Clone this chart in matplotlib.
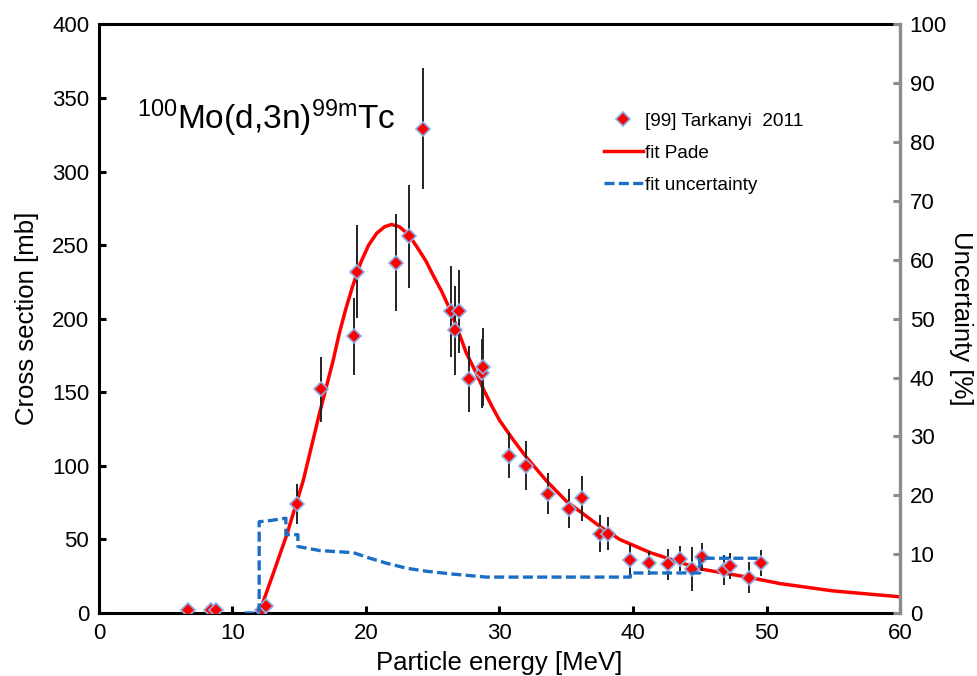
import matplotlib
matplotlib.use('Agg')
import matplotlib.pyplot as plt
from matplotlib.lines import Line2D

plt.rcParams['font.family'] = ['Liberation Sans', 'DejaVu Sans']
plt.rcParams['mathtext.fontset'] = 'custom'
plt.rcParams['mathtext.rm'] = 'Liberation Sans'

# measured cross sections, Tarkanyi 2011
energy = [6.7, 8.4, 8.8, 12.2, 12.5, 14.8, 16.6, 19.1, 19.3, 22.25, 23.2, 24.25,
          26.35, 26.7, 27.0, 27.7, 28.7, 28.8, 30.7, 32.0, 33.6, 35.2, 36.2, 37.5,
          38.15, 39.8, 41.2, 42.6, 43.5, 44.4, 45.2, 46.8, 47.3, 48.7, 49.6]
xsec = [2, 2, 2, 2, 5, 74, 152, 188, 232, 238, 256, 329,
        205, 192, 205, 159, 163, 167, 107, 100, 81, 71, 78, 54,
        54, 36, 34, 33, 37, 30, 38, 29, 32, 24, 34]
xsec_err = [0, 0, 0, 0, 0, 13.5, 22, 26, 31.5, 33, 35, 41,
            31, 30, 28, 22.5, 23.5, 26.6, 15, 16.7, 14, 13.2, 15.2, 12.6,
            11.5, 10.8, 8, 10.8, 8.8, 14.8, 9.3, 10.2, 9.1, 10.5, 9]

# Pade fit
fit_energy = [12.0, 13.06, 14.06, 15.3, 16.5, 17.55, 18.0, 18.5, 19.0, 19.6, 20.2,
              20.8, 21.4, 21.9, 22.5, 23.2, 23.8, 24.5, 25.0, 25.7, 26.3, 26.9,
              27.5, 28.2, 28.8, 29.4, 30.0, 31.0, 32.0, 33.5, 35.0, 37.5, 39.0,
              41.3, 45.0, 48.8, 51.0, 55.0, 60.0]
fit_xsec = [0, 27, 53, 90, 135, 172, 190, 207, 222, 238, 250,
            258, 262.5, 264, 262.5, 257, 249, 239, 230, 218, 206, 192,
            177, 164, 152, 141, 131, 118, 106, 90, 76, 59, 50,
            41, 30, 24, 20, 15, 11]

# fit uncertainty in percent (right axis)
unc_energy = [10.9, 12.0, 12.0, 12.8, 14.0, 14.0, 14.9, 14.9, 16.55, 19.05, 20.3,
              21.55, 23.05, 24.5, 26.55, 29.0, 39.8, 39.8, 45.0, 45.0, 49.6]
unc_pct = [0, 0, 15.5, 15.7, 16.1, 13.3, 13.3, 11.3, 10.6, 10.25, 9.3,
           8.45, 7.6, 7.1, 6.6, 6.1, 6.1, 6.8, 6.8, 9.3, 9.3]

fig = plt.figure(figsize=(9.77, 6.76), dpi=100)
ax = fig.add_axes([0.1013, 0.0932, 0.8199, 0.8708])
ax2 = ax.twinx()

red = '#ff0000'
blue = '#1a6ec4'
edge = '#8aaee6'

ax.plot(fit_energy, fit_xsec, color=red, lw=2.5, zorder=3)
ax.errorbar(energy, xsec, yerr=xsec_err, fmt='none', ecolor='#222222', elinewidth=1.4, zorder=4)
ax.plot(energy, xsec, 'D', ms=7.3, mfc=red, mec=edge, mew=1.2, zorder=5)

ax2.plot(unc_energy, unc_pct, color=blue, lw=2.4, dashes=(3, 1.3), zorder=2)

ax.set_xlim(0, 60)
ax.set_ylim(0, 400)
ax2.set_ylim(0, 100)
ax.set_xticks(range(0, 61, 10))
ax.set_yticks(range(0, 401, 50))
ax2.set_yticks(range(0, 101, 10))

for sp in ['left', 'bottom', 'top']:
    ax.spines[sp].set_linewidth(2.2)
ax.spines['right'].set_visible(False)
for sp in ['left', 'bottom', 'top']:
    ax2.spines[sp].set_visible(False)
ax2.spines['right'].set_linewidth(2.4)
ax2.spines['right'].set_color('#8c8c8c')

ax.tick_params(axis='both', direction='in', length=5, width=2.2, labelsize=16, pad=7)
ax.tick_params(axis='x', top=False)
ax2.tick_params(axis='y', direction='in', length=5, width=2.2, color='#8c8c8c', labelsize=16, pad=7)

ax.set_xlabel('Particle energy [MeV]', fontsize=18.5, labelpad=5)
ax.set_ylabel('Cross section [mb]', fontsize=18.5, labelpad=9)
ax2.set_ylabel('Uncertainty [%]', fontsize=18.5, rotation=270, labelpad=19)

fig.text(0.14, 0.825, r'$\mathregular{^{100}Mo(d{,}3n)^{99m}Tc}$', fontsize=24, va='center')

handles = [
    Line2D([], [], ls='none', marker='D', ms=7.3, mfc=red, mec=edge, mew=1.2),
    Line2D([], [], color=red, lw=2.5),
    Line2D([], [], color=blue, lw=2.4, dashes=(3, 1.3)),
]
labels = ['[99] Tarkanyi  2011', 'fit Pade', 'fit uncertainty']
ax2.legend(handles, labels, loc='upper left', bbox_to_anchor=(0.61, 0.845),
           bbox_transform=fig.transFigure, frameon=False, fontsize=13.7,
           handlelength=2.05, handletextpad=0.15, labelspacing=0.78, borderaxespad=0)

fig.savefig('out.png', dpi=100)
